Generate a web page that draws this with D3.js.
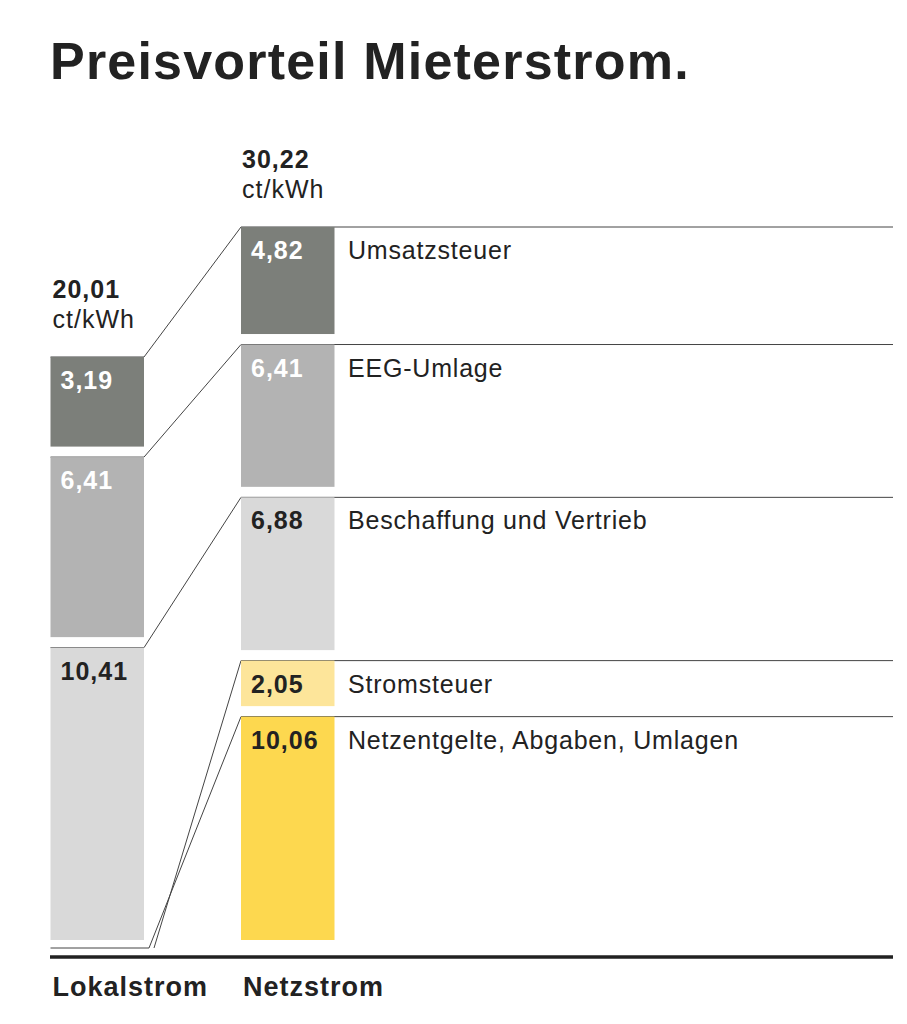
<!DOCTYPE html>
<html><head><meta charset="utf-8">
<script src="https://cdn.jsdelivr.net/npm/d3@7"></script>
<style>body{margin:0;background:#fff}svg{font-family:"Liberation Sans",Arial,sans-serif}</style>
</head><body>
<svg id="chart" width="907" height="1024"></svg>
<script>
// values in ct/kWh, bottom to top
var segNames = ["Netzentgelte, Abgaben, Umlagen", "Stromsteuer", "Beschaffung und Vertrieb", "EEG-Umlage", "Umsatzsteuer"];
var netzValues = [10.06, 2.05, 6.88, 6.41, 4.82];
var lokalValues = [10.41, 6.41, 3.19];   // Beschaffung, EEG, Umsatzsteuer
var lokalMap = [2, 3, 4];                // which segName each lokal segment matches
var colors = ["#fdd84f", "#fde59a", "#d9d9d9", "#b3b3b3", "#7c7f7a"];
var labelColors = ["#222", "#222", "#222", "#fff", "#fff"];
var totals = ["20,01", "30,22"];
var columns = ["Lokalstrom", "Netzstrom"];

var svg = d3.select("#chart");
var base = 940, gap = 10.5;
var fmt = function(v) { return d3.format(".2f")(v).replace(".", ","); };

var x = d3.scaleOrdinal().domain(columns).range([50.5, 241]);
var bw = 93.5;
var yL = d3.scaleLinear().domain([0, d3.sum(lokalValues)]).range([0, base - 357 - 2 * gap]);
var yN = d3.scaleLinear().domain([0, d3.sum(netzValues)]).range([0, base - 227 - 4 * gap]);

function stack(values, scale) {
  var y = base, out = [];
  values.forEach(function(v, i) {
    var h = scale(v);
    out.push({v: v, top: y - h, bottom: y, i: i});
    y = y - h - gap;
  });
  return out;
}
var lok = stack(lokalValues, yL);
var net = stack(netzValues, yN);
var xL = x("Lokalstrom"), xN = x("Netzstrom");

svg.append("text").attr("x", 50).attr("y", 79).attr("font-size", 52).attr("font-weight", "bold")
  .attr("letter-spacing", 1.2).attr("fill", "#222").text("Preisvorteil Mieterstrom.");

// connector lines
var lines = svg.append("g").attr("fill", "none").attr("stroke", "#444").attr("stroke-width", 1);
lok.forEach(function(d, j) {
  var n = net[lokalMap[j]];
  lines.append("polyline").attr("points", [[xL, d.top], [xL + bw, d.top], [xN, n.top], [893, n.top]].join(" "));
});
[0, 1].forEach(function(k) {
  var n = net[k], bx = xL + bw + 5 + k * 5;
  lines.append("polyline").attr("points", (k == 0 ? [[xL, 948]] : []).concat([[bx, 948], [xN, n.top], [893, n.top]]).join(" "));
});

function drawBars(data, xpos, colorIdx) {
  data.forEach(function(d) {
    var ci = colorIdx(d.i);
    svg.append("rect").attr("x", xpos).attr("y", d.top).attr("width", bw).attr("height", d.bottom - d.top).attr("fill", colors[ci]);
    svg.append("text").attr("x", xpos + 10).attr("y", d.top + 32).attr("font-size", 25).attr("font-weight", "bold")
      .attr("letter-spacing", 1).attr("fill", labelColors[ci]).text(fmt(d.v));
  });
}
drawBars(lok, xL, function(i) { return lokalMap[i]; });
drawBars(net, xN, function(i) { return i; });

net.forEach(function(d) {
  svg.append("text").attr("x", 348).attr("y", d.top + 32).attr("font-size", 25).attr("letter-spacing", 0.8)
    .attr("fill", "#222").text(segNames[d.i]);
});

// totals
[[xL + 2, lok[lok.length - 1].top], [xN + 1, net[net.length - 1].top]].forEach(function(p, i) {
  svg.append("text").attr("x", p[0]).attr("y", p[1] - 59).attr("font-size", 25).attr("font-weight", "bold")
    .attr("letter-spacing", 1).attr("fill", "#222").text(totals[i]);
  svg.append("text").attr("x", p[0]).attr("y", p[1] - 29).attr("font-size", 25).attr("letter-spacing", 1)
    .attr("fill", "#222").text("ct/kWh");
});

// axis
svg.append("line").attr("x1", 50).attr("x2", 893).attr("y1", 957).attr("y2", 957).attr("stroke", "#222").attr("stroke-width", 3.5);
columns.forEach(function(c) {
  svg.append("text").attr("x", x(c) + 2).attr("y", 996).attr("font-size", 27).attr("font-weight", "bold")
    .attr("letter-spacing", 1).attr("fill", "#222").text(c);
});
</script>
</body></html>
